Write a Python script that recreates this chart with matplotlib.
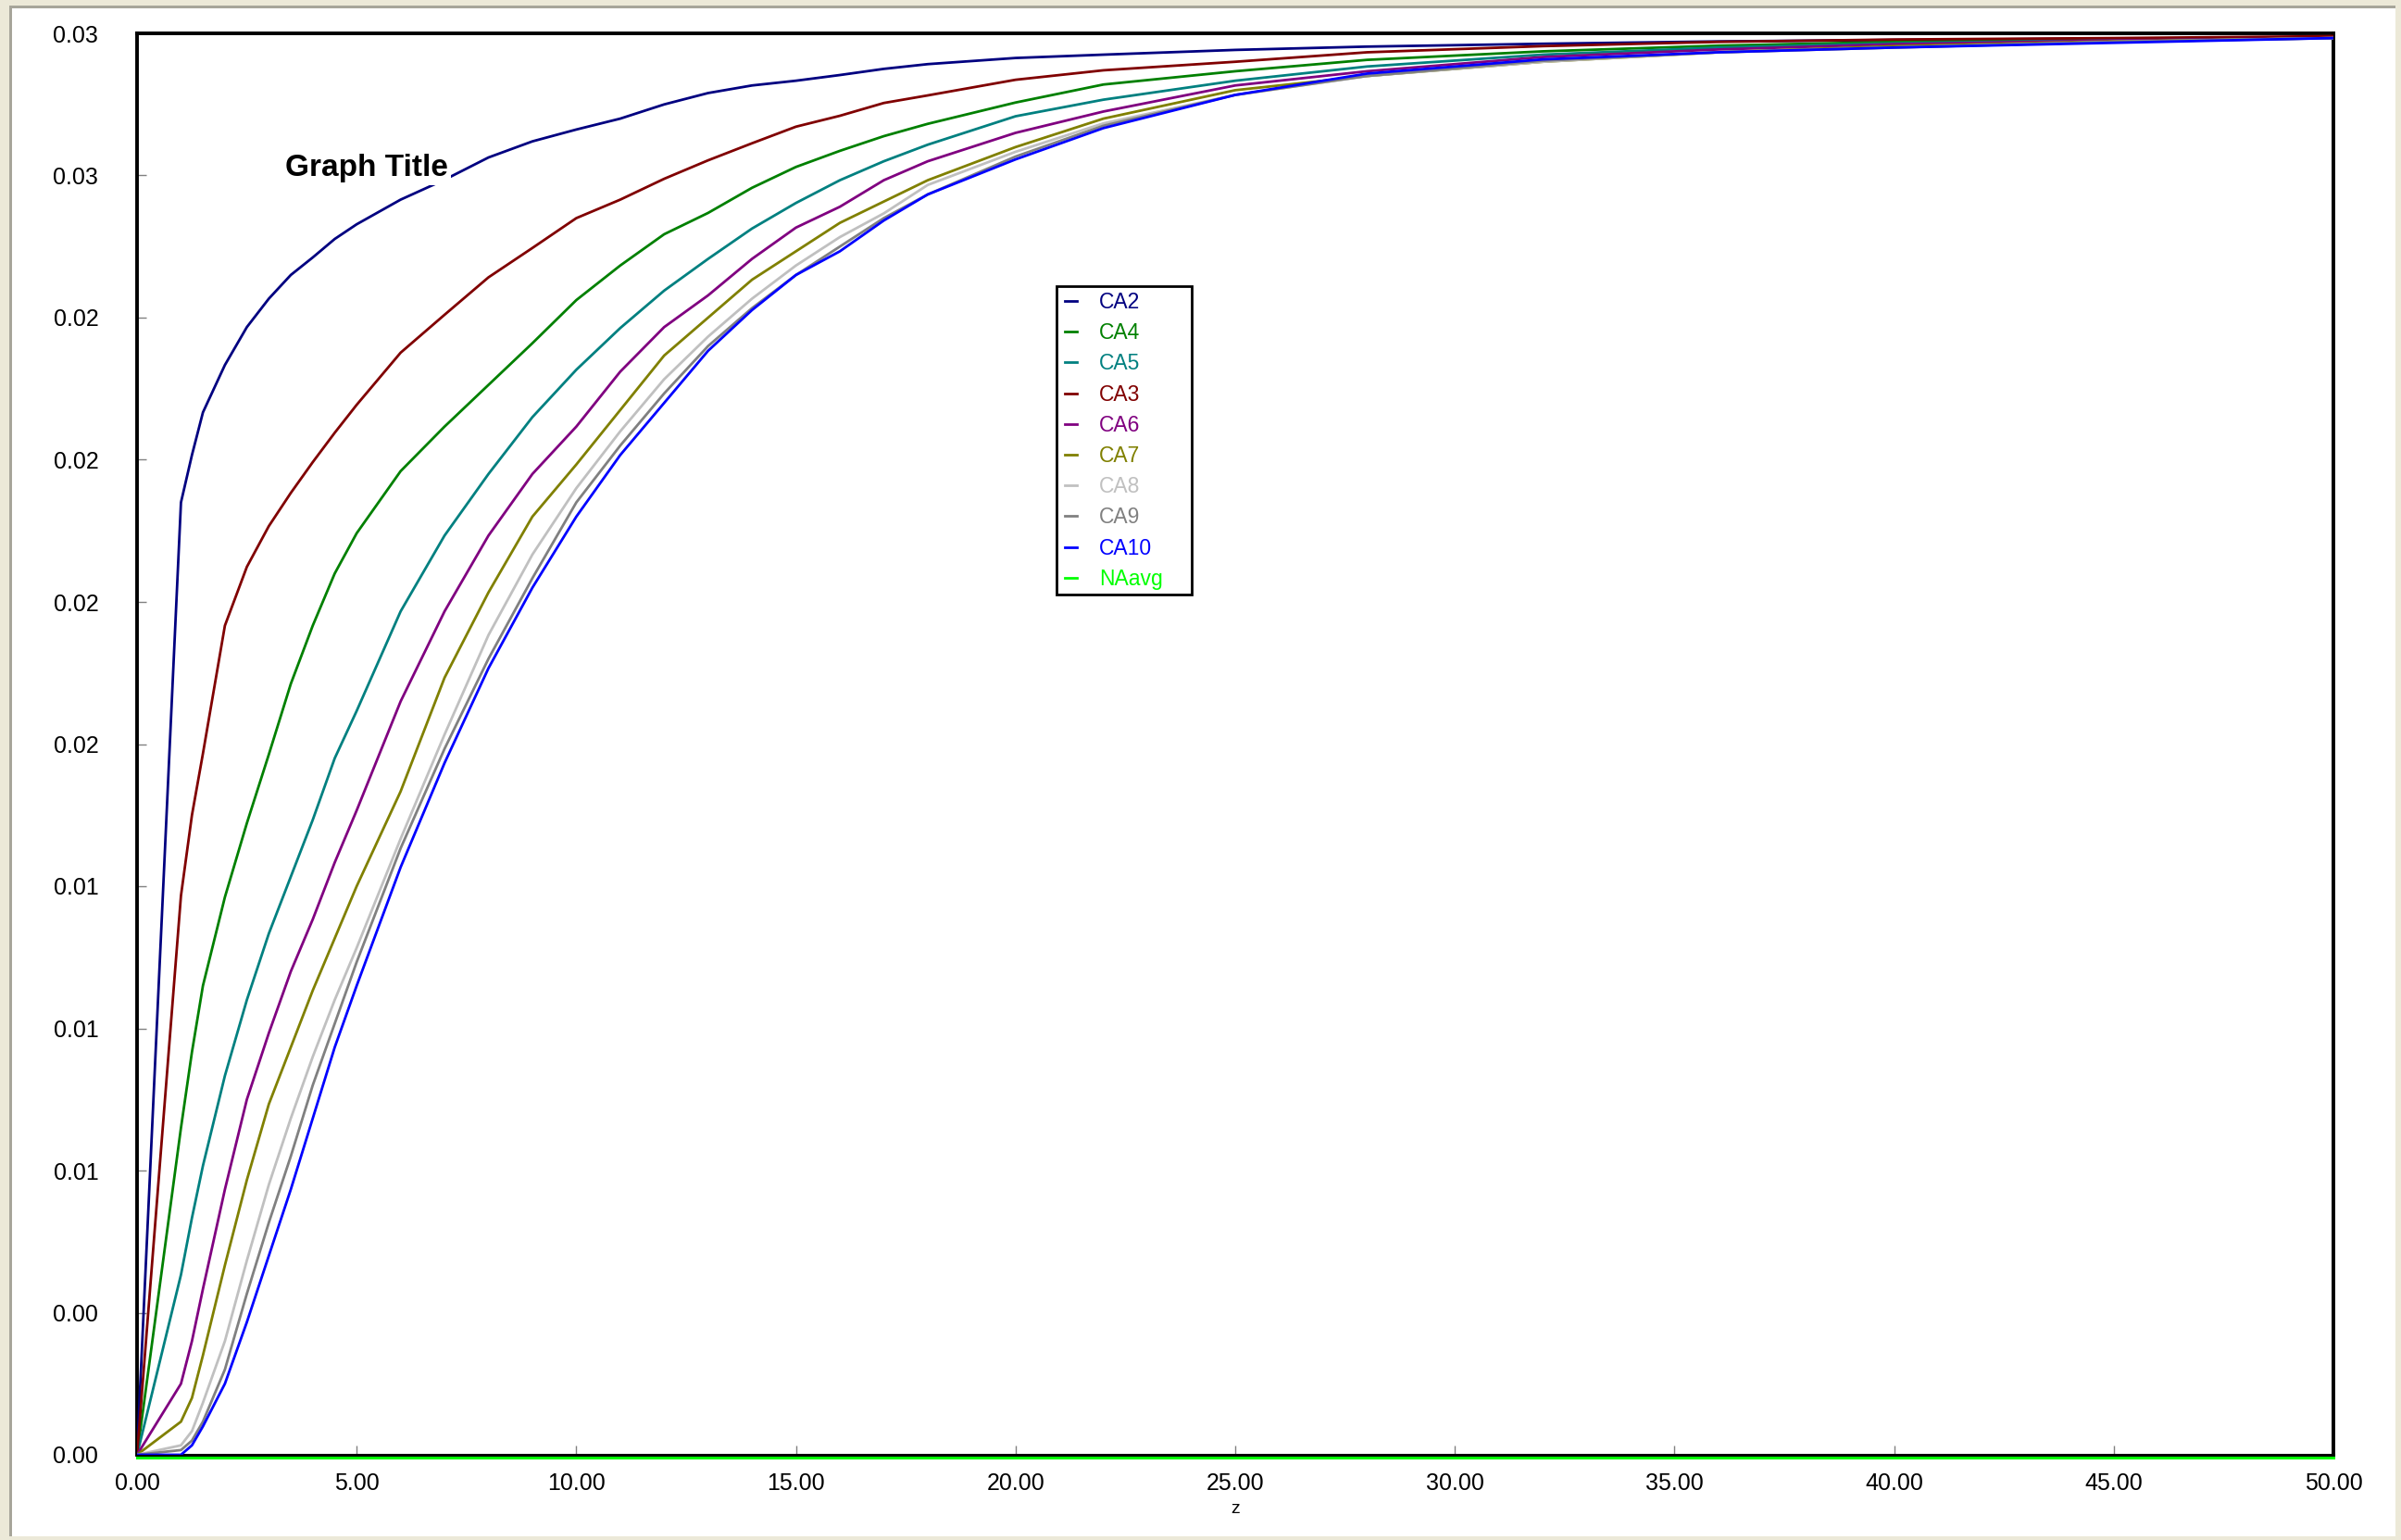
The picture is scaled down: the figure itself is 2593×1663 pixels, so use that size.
import matplotlib
matplotlib.use("Agg")
import matplotlib.pyplot as plt
import matplotlib.transforms as mtransforms
from matplotlib.patches import Rectangle

# ---------------- data ----------------
z = [0, 1, 1.25, 1.5, 2, 2.5, 3, 3.5, 4, 4.5, 5, 6, 7, 8, 9, 10, 11, 12, 13, 14,
     15, 16, 17, 18, 20, 22, 25, 28, 32, 36, 40, 45, 50]

CA2 = [0, 0.0201, 0.0211, 0.0220, 0.0230, 0.0238, 0.0244, 0.0249, 0.02527, 0.02566,
       0.02597, 0.02649, 0.02691, 0.02738, 0.02772, 0.02797, 0.0282, 0.0285, 0.02874,
       0.0289, 0.0290, 0.02912, 0.02925, 0.02935, 0.02948, 0.02955, 0.02965, 0.02972,
       0.02978, 0.02983, 0.02986, 0.02989, 0.02991]
CA3 = [0, 0.0118, 0.0135, 0.0148, 0.0175, 0.01874, 0.0196, 0.0203, 0.02095, 0.02157,
       0.02216, 0.02326, 0.02406, 0.02485, 0.02547, 0.0261, 0.02649, 0.02693, 0.02732,
       0.02768, 0.02803, 0.02826, 0.02853, 0.02869, 0.02902, 0.02922, 0.0294, 0.0296,
       0.02973, 0.02982, 0.02987, 0.0299, 0.02994]
CA4 = [0, 0.0069, 0.0085, 0.0099, 0.01177, 0.01333, 0.01478, 0.01627, 0.0175, 0.0186,
       0.01945, 0.02076, 0.0217, 0.02258, 0.02346, 0.02437, 0.0251, 0.02576, 0.02621,
       0.02674, 0.02718, 0.02752, 0.02783, 0.02809, 0.02854, 0.02892, 0.0292, 0.02944,
       0.02962, 0.02974, 0.02982, 0.02988, 0.02992]
CA5 = [0, 0.0038, 0.0050, 0.0061, 0.0080, 0.0096, 0.0110, 0.0122, 0.0134, 0.0147,
       0.0157, 0.0178, 0.0194, 0.0207, 0.0219, 0.0229, 0.02378, 0.02457, 0.02524,
       0.02588, 0.02642, 0.0269, 0.0273, 0.02765, 0.02825, 0.0286, 0.0290, 0.0293,
       0.02955, 0.0297, 0.02979, 0.02986, 0.0299]
CA6 = [0, 0.0015, 0.0024, 0.0035, 0.0056, 0.0075, 0.0089, 0.0102, 0.0113, 0.0125,
       0.0136, 0.0159, 0.0178, 0.0194, 0.0207, 0.0217, 0.02286, 0.0238, 0.02447,
       0.02524, 0.0259, 0.02634, 0.0269, 0.0273, 0.0279, 0.02835, 0.0289, 0.0292,
       0.0295, 0.02966, 0.02977, 0.02985, 0.0299]
CA7 = [0, 0.0007, 0.0012, 0.0021, 0.0040, 0.0058, 0.0074, 0.0086, 0.0098, 0.0109,
       0.0120, 0.0140, 0.0164, 0.0182, 0.0198, 0.0209, 0.02205, 0.0232, 0.0240,
       0.0248, 0.0254, 0.0260, 0.02645, 0.0269, 0.0276, 0.0282, 0.0288, 0.0291,
       0.0294, 0.0296, 0.02973, 0.02983, 0.0299]
CA8 = [0, 0.0002, 0.0005, 0.0011, 0.0024, 0.0041, 0.0057, 0.0071, 0.0084, 0.0096,
       0.0107, 0.0130, 0.0152, 0.0173, 0.0190, 0.0204, 0.0216, 0.0227, 0.0236,
       0.0244, 0.0251, 0.0257, 0.0262, 0.0268, 0.0275, 0.0281, 0.0287, 0.0291,
       0.0294, 0.0296, 0.0297, 0.02982, 0.0299]
CA9 = [0, 0.0001, 0.0003, 0.0007, 0.0018, 0.0034, 0.0049, 0.0063, 0.0078, 0.0091,
       0.0104, 0.0128, 0.0149, 0.0168, 0.0185, 0.0201, 0.0213, 0.0224, 0.0234,
       0.0242, 0.0249, 0.0255, 0.0261, 0.0266, 0.0274, 0.02805, 0.0287, 0.0291,
       0.02942, 0.0296, 0.0297, 0.02982, 0.0299]
CA10 = [0, 0.0, 0.0002, 0.0006, 0.0015, 0.0028, 0.0042, 0.0056, 0.0071, 0.0086,
        0.0099, 0.0124, 0.0146, 0.0166, 0.0183, 0.0198, 0.0211, 0.0222, 0.0233,
        0.02416, 0.0249, 0.0254, 0.02605, 0.0266, 0.02734, 0.0280, 0.0287, 0.02915,
        0.02945, 0.0296, 0.0297, 0.0298, 0.0299]
NAavg = [0.0] * len(z)

series_names = ["CA2", "CA4", "CA5", "CA3", "CA6", "CA7", "CA8", "CA9", "CA10", "NAavg"]
series_values = [CA2, CA4, CA5, CA3, CA6, CA7, CA8, CA9, CA10, NAavg]
series_colors = ["#000080", "#008000", "#008080", "#800000", "#800080", "#808000",
                 "#C0C0C0", "#808080", "#0000FF", "#00FF00"]

x_ticks = [0, 5, 10, 15, 20, 25, 30, 35, 40, 45, 50]
x_tick_labels = ["0.00", "5.00", "10.00", "15.00", "20.00", "25.00", "30.00",
                 "35.00", "40.00", "45.00", "50.00"]
y_ticks = [0.000, 0.003, 0.006, 0.009, 0.012, 0.015, 0.018, 0.021, 0.024, 0.027, 0.030]
y_tick_labels = ["0.00", "0.00", "0.01", "0.01", "0.01", "0.02", "0.02", "0.02",
                 "0.02", "0.03", "0.03"]

# ---------------- figure ----------------
W, H = 2593, 1663
DPI = 100
plt.rcParams['font.family'] = ['Liberation Sans', 'DejaVu Sans']
fig = plt.figure(figsize=(W / DPI, H / DPI), dpi=DPI, facecolor="white")

# window frame
beige = "#ECE9D8"
def fig_rect(x0, y0, w, h, color, z=0, **kw):
    # x0, y0 in pixels from top-left
    fig.patches.append(Rectangle((x0 / W, 1 - (y0 + h) / H), w / W, h / H,
                                 transform=fig.transFigure, facecolor=color,
                                 zorder=z, **kw))

fig_rect(0, 0, 10, H, beige, edgecolor="none")
fig_rect(0, 0, W, 6, beige, edgecolor="none")
fig_rect(W - 6, 0, 6, H, beige, edgecolor="none")
fig_rect(0, H - 4, W, 4, beige, edgecolor="none")
fig_rect(10, 6, 3, H - 10, "#A7A59A", edgecolor="none")
fig_rect(10, 6, W - 16, 3, "#A7A59A", edgecolor="none")

left, right, top, bottom = 148, 2520, 36, 1571
ax = fig.add_axes([left / W, 1 - bottom / H, (right - left) / W, (bottom - top) / H])
ax.set_facecolor("white")

handles = []
for name, vals, col in zip(series_names, series_values, series_colors):
    if name == "NAavg":
        tr = mtransforms.offset_copy(ax.transData, fig=fig, x=0, y=-2.5, units='dots')
        ln, = ax.plot(z, vals, color=col, lw=2.2, label=name, transform=tr,
                      clip_on=False, zorder=4)
    else:
        ln, = ax.plot(z, vals, color=col, lw=2.0, label=name, zorder=3,
                      solid_joinstyle='round')
    handles.append(ln)

ax.set_xlim(0, 50)
ax.set_ylim(0, 0.030)
ax.set_xticks(x_ticks)
ax.set_xticklabels(x_tick_labels)
ax.set_yticks(y_ticks)
ax.set_yticklabels(y_tick_labels)
ax.tick_params(axis='both', direction='in', length=7, width=1.0, color="#808080",
               labelsize=18, labelcolor="black")
ax.tick_params(axis='y', pad=30)
ax.tick_params(axis='x', pad=14)

for s in ("left", "top", "right"):
    ax.spines[s].set_linewidth(2.8)
    ax.spines[s].set_color("black")
ax.spines["bottom"].set_linewidth(2.2)
ax.spines["bottom"].set_color("black")

# x-axis label
fig.text((left + right) / 2 / W, 1 - 1630 / H, "z", ha="center", va="center",
         fontsize=14, color="black")

# graph title (with white background that interrupts the curve)
ax.text(308 / W, 1 - 190 / H, "Graph Title", transform=fig.transFigure,
        ha="left", va="baseline", fontsize=24, fontweight="bold", color="black",
        zorder=5, bbox=dict(facecolor="white", edgecolor="none", pad=2.5))

# legend: frame drawn separately to match the reference box
lg_x0, lg_y0, lg_x1, lg_y1 = 1141, 309, 1287, 642
fig.patches.append(Rectangle((lg_x0 / W, 1 - lg_y1 / H), (lg_x1 - lg_x0) / W,
                             (lg_y1 - lg_y0) / H, transform=fig.transFigure,
                             facecolor="white", edgecolor="black", lw=2.0, zorder=5))
leg = fig.legend(handles=handles, labels=series_names, loc="upper left",
                 bbox_to_anchor=(1142 / W, 1 - 307 / H), bbox_transform=fig.transFigure,
                 fontsize=16.5, frameon=False, handlelength=0.55, handletextpad=1.07,
                 labelspacing=0.445, borderpad=0.35, borderaxespad=0)
for txt, col in zip(leg.get_texts(), series_colors):
    txt.set_color(col)
for lh in leg.get_lines():
    lh.set_linewidth(2.0)
leg.set_zorder(7)

fig.savefig("out.png", dpi=DPI, facecolor=fig.get_facecolor())
